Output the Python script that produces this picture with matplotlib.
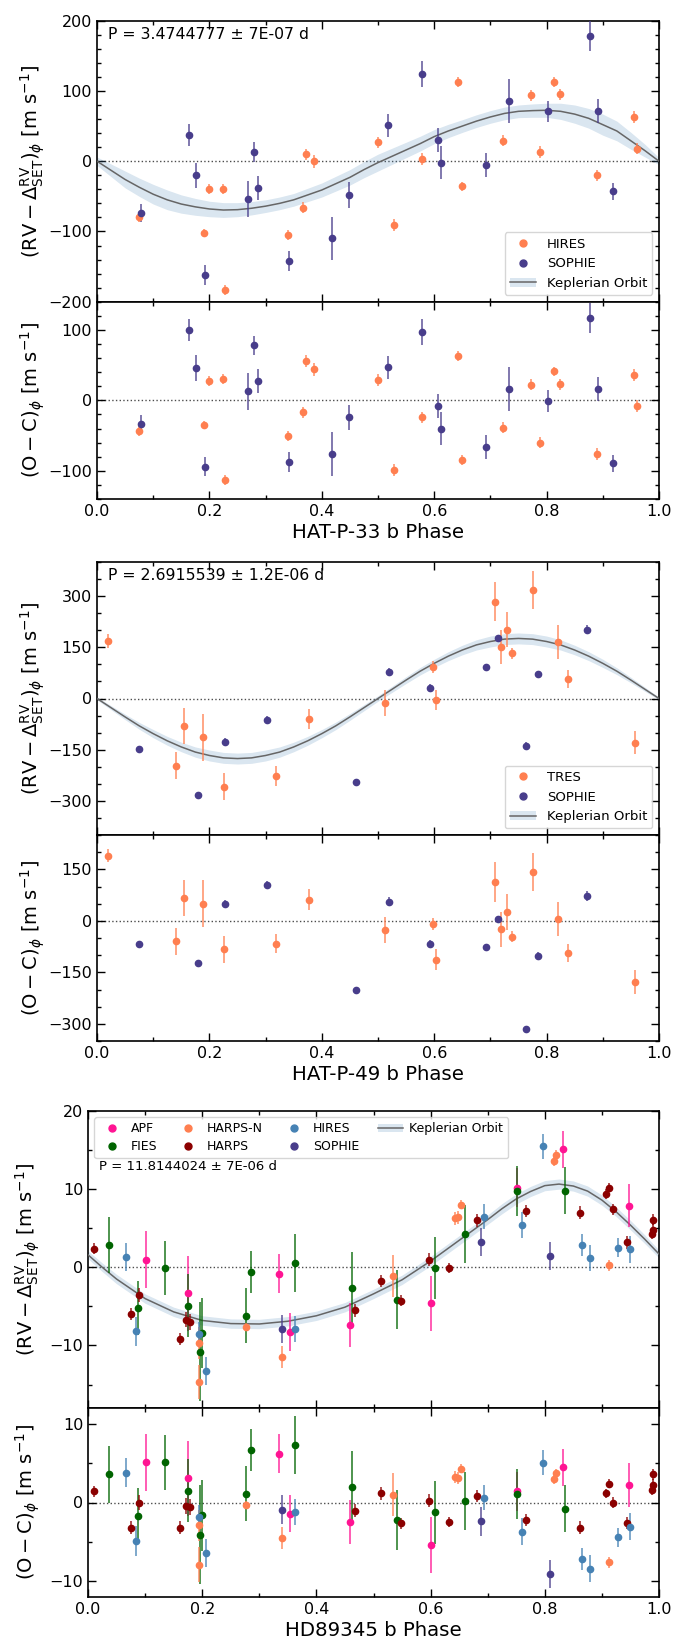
import numpy as np
import matplotlib.pyplot as plt
from matplotlib.lines import Line2D
from matplotlib.patches import Patch
from matplotlib.ticker import MultipleLocator

# ---------------- HAT-P-33 b ----------------
p33_hires_ph = [0.075, 0.19, 0.20, 0.224, 0.228, 0.34, 0.367, 0.372, 0.387, 0.50, 0.529,
                0.579, 0.643, 0.649, 0.723, 0.772, 0.789, 0.813, 0.824, 0.89, 0.955, 0.961]
p33_hires_rv = [-80, -102, -40, -39, -183, -105, -66, 10, 0, 27, -91,
                3, 113, -36, 29, 94, 13, 113, 95, -20, 63, 18]
p33_hires_oc = [-43, -35, 28, 30, -113, -50, -17, 56, 44, 29, -99,
                -24, 63, -85, -39, 22, -60, 41, 23, -76, 36, -8]
p33_hires_err = [7, 6, 7, 7, 7, 7, 8, 8, 9, 8, 9, 8, 7, 7, 8, 8, 8, 7, 8, 8, 8, 8]

p33_sophie_ph = [0.078, 0.163, 0.177, 0.192, 0.268, 0.28, 0.286, 0.341, 0.418, 0.448,
                 0.517, 0.579, 0.606, 0.612, 0.692, 0.733, 0.803, 0.877, 0.891, 0.918]
p33_sophie_rv = [-74, 37, -20, -162, -54, 13, -38, -142, -110, -48,
                 51, 124, 30, -2, -5, 86, 71, 178, 71, -43]
p33_sophie_oc = [-34, 100, 46, -94, 13, 78, 27, -87, -76, -24,
                 47, 97, -8, -40, -66, 16, -1, 117, 16, -89]
p33_sophie_err = [13, 16, 18, 14, 26, 14, 17, 14, 31, 18, 16, 18, 17, 24, 17, 31, 15, 21, 17, 12]

# Keplerian model every 0.025 in phase
p33_model_ph = [0.0, 0.025, 0.05, 0.075, 0.1, 0.125, 0.15, 0.175, 0.2, 0.225,
                0.25, 0.275, 0.3, 0.325, 0.35, 0.375, 0.4, 0.425, 0.45, 0.475,
                0.5, 0.525, 0.55, 0.575, 0.6, 0.625, 0.65, 0.675, 0.7, 0.725,
                0.75, 0.775, 0.8, 0.825, 0.85, 0.875, 0.9, 0.925, 0.95, 0.975, 1.0]
p33_model_rv = [0, -13, -26, -37, -47, -55, -61, -65, -68, -69.5,
                -69, -67, -64, -60, -55, -48, -41, -32, -23, -12,
                -2, 7, 16, 25, 35, 43, 50, 57, 63, 68,
                71, 72, 72.5, 71, 67, 61, 52, 43, 29, 15, 0]
p33_model_sig = [6, 9, 12, 13, 14, 14, 13, 12, 11, 10.5,
                 10, 9.5, 9, 9, 9, 9.5, 10, 10.5, 11, 11.5,
                 12, 11.5, 11, 10.5, 10, 9.5, 9, 9, 9, 9,
                 9, 9.5, 10, 11.5, 13, 14, 15, 14, 12, 9, 5]

# ---------------- HAT-P-49 b ----------------
p49_tres_ph = [0.019, 0.14, 0.154, 0.189, 0.226, 0.319, 0.378, 0.513, 0.598, 0.603,
               0.709, 0.719, 0.730, 0.738, 0.775, 0.821, 0.838, 0.958]
p49_tres_rv = [169, -197, -80, -114, -258, -227, -60, -13, 93, -5,
               284, 150, 202, 132, 318, 166, 57, -130]
p49_tres_oc = [190, -60, 66, 50, -83, -67, 62, -26, -10, -113,
               112, -25, 25, -46, 142, 6, -94, -178]
p49_tres_err = [20, 40, 52, 68, 40, 28, 30, 38, 18, 30, 58, 50, 52, 15, 55, 50, 27, 34]

p49_sophie_ph = [0.075, 0.18, 0.228, 0.303, 0.46, 0.52, 0.592, 0.692, 0.714, 0.763, 0.785, 0.871]
p49_sophie_rv = [-149, -282, -127, -62, -245, 78, 30, 91, 177, -138, 71, 202]
p49_sophie_oc = [-68, -123, 49, 105, -201, 56, -68, -76, 4, -315, -101, 72]
p49_sophie_err = [8, 8, 12, 12, 8, 12, 12, 8, 8, 10, 10, 14]

p49_model_ph = p33_model_ph
p49_model_rv = [0, -27, -54, -80, -103, -124, -142, -157, -167, -174,
                -176, -174, -167, -157, -142, -124, -103, -80, -54, -27,
                0, 27, 54, 80, 103, 124, 142, 157, 167, 174,
                176, 174, 167, 157, 142, 124, 103, 80, 54, 27, 0]
p49_model_sig = [4, 6, 8, 10, 12, 13, 14, 15, 16, 16,
                 16, 16, 16, 15, 14, 13, 12, 11, 10, 9,
                 8, 9, 10, 11, 12, 13, 14, 15, 16, 16,
                 16, 16, 16, 15, 14, 13, 12, 10, 8, 6, 4]

# ---------------- HD89345 b ----------------
hd_apf_ph = [0.102, 0.175, 0.335, 0.353, 0.458, 0.601, 0.751, 0.832, 0.947]
hd_apf_rv = [1.0, -3.3, -0.8, -8.3, -7.4, -4.6, 10.2, 15.1, 7.9]
hd_apf_oc = [5.1, 3.05, 6.2, -1.4, -2.5, -5.4, 1.4, 4.45, 2.25]
hd_apf_err = [3.6, 4.8, 2.5, 2.4, 2.8, 3.5, 2.5, 2.4, 2.8]

hd_fies_ph = [0.036, 0.087, 0.135, 0.176, 0.1955, 0.2005, 0.276, 0.285, 0.363,
              0.462, 0.541, 0.607, 0.661, 0.751, 0.835]
hd_fies_rv = [2.9, -5.2, -0.1, -4.9, -10.8, -8.4, -6.2, -0.6, 0.6,
              -2.6, -4.15, -0.1, 4.3, 9.8, 9.8]
hd_fies_oc = [3.6, -1.7, 5.1, 1.5, -4.1, -1.6, 1.1, 6.65, 7.3,
              2.0, -2.25, -1.25, 0.2, 1.05, -0.8]
hd_fies_err = [3.6, 3.5, 3.5, 4.0, 6.3, 4.5, 3.5, 2.7, 3.7, 4.5, 3.8, 4.0, 3.7, 3.2, 3.0]

hd_harpsn_ph = [0.194, 0.195, 0.276, 0.339, 0.534, 0.642, 0.648, 0.654, 0.816, 0.820, 0.913]
hd_harpsn_rv = [-14.7, -9.7, -7.65, -11.5, -1.15, 6.25, 6.4, 8.0, 13.6, 14.4, 0.25]
hd_harpsn_oc = [-7.9, -2.9, -0.35, -4.45, 1.0, 3.25, 3.1, 4.3, 3.0, 3.7, -7.6]
hd_harpsn_err = [2.2, 2.0, 0.5, 1.4, 2.7, 0.8, 0.8, 0.6, 0.6, 0.6, 0.7]

hd_harps_ph = [0.010, 0.075, 0.089, 0.161, 0.172, 0.179, 0.468, 0.514, 0.549, 0.598, 0.632,
               0.681, 0.767, 0.861, 0.907, 0.913, 0.920, 0.944, 0.988, 0.989, 0.990]
hd_harps_rv = [2.35, -6.0, -3.5, -9.2, -6.7, -7.0, -5.5, -1.75, -4.3, 1.0, -0.1,
               6.0, 7.2, 7.0, 9.4, 10.2, 7.4, 3.2, 4.3, 6.1, 4.8]
hd_harps_oc = [1.4, -3.2, 0.0, -3.2, -0.4, -0.55, -1.05, 1.15, -2.65, 0.25, -2.5,
               0.85, -2.2, -3.2, 1.15, 2.4, 0.0, -2.6, 1.6, 3.6, 2.25]
hd_harps_err = [0.7, 0.8, 0.9, 0.8, 1.0, 1.0, 0.8, 0.8, 0.7, 0.8, 0.6,
                0.8, 0.8, 0.8, 0.6, 0.6, 0.7, 0.8, 0.7, 0.7, 0.7]

hd_hires_ph = [0.066, 0.084, 0.194, 0.207, 0.363, 0.694, 0.760, 0.797, 0.865, 0.879, 0.929, 0.950]
hd_hires_rv = [1.3, -8.2, -8.5, -13.3, -7.9, 6.5, 5.4, 15.5, 2.9, 1.2, 2.5, 2.3]
hd_hires_oc = [3.8, -4.9, -1.8, -6.4, -1.2, 0.6, -3.7, 5.05, -7.2, -8.4, -4.4, -3.05]
hd_hires_err = [1.8, 1.9, 1.5, 1.8, 1.7, 1.6, 1.7, 1.6, 1.4, 1.7, 1.2, 1.7]

hd_sophie_ph = [0.339, 0.689, 0.809]
hd_sophie_rv = [-7.9, 3.2, 1.4]
hd_sophie_oc = [-0.9, -2.4, -9.1]
hd_sophie_err = [1.8, 1.8, 1.8]

hd_model_ph = [0.0, 0.025, 0.05, 0.1, 0.15, 0.2, 0.25, 0.3, 0.35, 0.4, 0.45, 0.5, 0.55, 0.6,
               0.65, 0.7, 0.725, 0.75, 0.775, 0.8, 0.825, 0.85, 0.875, 0.9, 0.925, 0.95, 0.975, 1.0]
hd_model_rv = [1.6, 0.0, -1.5, -4.0, -5.7, -6.8, -7.2, -7.25, -6.9, -6.2, -5.1, -3.4, -1.6, 0.8,
               3.45, 6.1, 7.5, 8.75, 9.7, 10.45, 10.65, 10.4, 9.75, 8.6, 7.1, 5.4, 3.6, 1.7]
hd_model_sig = [0.5, 0.55, 0.6, 0.6, 0.6, 0.6, 0.6, 0.6, 0.6, 0.6, 0.6, 0.6, 0.6, 0.6,
                0.6, 0.6, 0.65, 0.65, 0.65, 0.65, 0.65, 0.65, 0.65, 0.65, 0.6, 0.6, 0.55, 0.5]

band_color = 'steelblue'
line_color = '#666666'

W, H = 676, 1645
fig = plt.figure(figsize=(W / 100, H / 100), dpi=100)


def box(left, right, top, bottom):
    return [left / W, 1 - bottom / H, (right - left) / W, (bottom - top) / H]


def style(ax, major, minor):
    ax.set_xlim(0, 1)
    ax.xaxis.set_major_locator(MultipleLocator(0.2))
    ax.xaxis.set_minor_locator(MultipleLocator(0.1))
    ax.yaxis.set_major_locator(MultipleLocator(major))
    ax.yaxis.set_minor_locator(MultipleLocator(minor))
    ax.tick_params(which='both', direction='in', top=True, right=True, labelsize=11.5)
    ax.tick_params(which='major', length=6, width=1)
    ax.tick_params(which='minor', length=3, width=1)
    for s in ax.spines.values():
        s.set_linewidth(1.2)
    ax.axhline(0, color='k', ls=':', lw=1, alpha=0.7, zorder=1)


def points(ax, ph, vals, err, color):
    eb = ax.errorbar(ph, vals, yerr=err, fmt='o', color=color, ms=4.5,
                     elinewidth=1.3, capsize=0, zorder=4)
    eb[2][0].set_alpha(0.75)


def panel(top, bot, left, datasets, mph, mrv, msig, rvlim, oclim, rvtick, octick,
          period, ptxt_y, ptxt_size, planet, labx, legend_kw):
    ax1 = fig.add_axes(box(left, 659, top[0], top[1]))
    ax2 = fig.add_axes(box(left, 659, bot[0], bot[1]), sharex=ax1)
    mrv_a = np.array(mrv)
    msig_a = np.array(msig)
    ax1.fill_between(mph, mrv_a - msig_a, mrv_a + msig_a, color=band_color, alpha=0.2,
                     lw=0, zorder=2)
    ax1.plot(mph, mrv, color=line_color, lw=1.1, zorder=3)
    handles = []
    for name, color, ph, rv, oc, err in datasets:
        points(ax1, ph, rv, err, color)
        points(ax2, ph, oc, err, color)
        handles.append(Line2D([], [], marker='o', ls='', color=color, ms=5, label=name))
    handles.append((Patch(facecolor=band_color, alpha=0.2, lw=0),
                    Line2D([], [], color=line_color, lw=1.1)))
    labels = [d[0] for d in datasets] + ['Keplerian Orbit']
    style(ax1, *rvtick)
    style(ax2, *octick)
    ax1.set_ylim(*rvlim)
    ax2.set_ylim(*oclim)
    plt.setp(ax1.get_xticklabels(), visible=False)
    ax1.text(0.019, ptxt_y, period, transform=ax1.transAxes, fontsize=ptxt_size, va='center')
    leg = ax1.legend(handles, labels, **legend_kw)
    leg.set_zorder(10)
    ax1.set_ylabel(r'$(\mathrm{RV}-\Delta^{\mathrm{RV}}_{\mathrm{SET}})_{\phi}$ $[\mathrm{m\ s^{-1}}]$',
                   fontsize=14)
    ax2.set_ylabel(r'$(\mathrm{O}-\mathrm{C})_{\phi}$ $[\mathrm{m\ s^{-1}}]$', fontsize=14)
    lx = -(left - labx) / (659 - left)
    ax1.yaxis.set_label_coords(lx, 0.5)
    ax2.yaxis.set_label_coords(lx, 0.5)
    ax2.set_xlabel(planet + ' Phase', fontsize=14.2, labelpad=3)


panel((20.7, 301.7), (301.7, 499), 97,
      [('HIRES', 'coral', p33_hires_ph, p33_hires_rv, p33_hires_oc, p33_hires_err),
       ('SOPHIE', 'darkslateblue', p33_sophie_ph, p33_sophie_rv, p33_sophie_oc, p33_sophie_err)],
      p33_model_ph, p33_model_rv, p33_model_sig, (-200, 200), (-140, 140), (100, 20), (100, 20),
      'P = 3.4744777 ± 7E-07 d', 0.95, 11.3, 'HAT-P-33 b', 47,
      dict(loc='lower right', fontsize=9.5))

panel((562, 835), (835, 1041), 97,
      [('TRES', 'coral', p49_tres_ph, p49_tres_rv, p49_tres_oc, p49_tres_err),
       ('SOPHIE', 'darkslateblue', p49_sophie_ph, p49_sophie_rv, p49_sophie_oc, p49_sophie_err)],
      p49_model_ph, p49_model_rv, p49_model_sig, (-400, 400), (-350, 250), (150, 50), (150, 50),
      'P = 2.6915539 ± 1.2E-06 d', 0.949, 11.3, 'HAT-P-49 b', 47,
      dict(loc='lower right', fontsize=9.5))

panel((1111, 1408), (1408, 1597), 88,
      [('APF', 'deeppink', hd_apf_ph, hd_apf_rv, hd_apf_oc, hd_apf_err),
       ('FIES', 'darkgreen', hd_fies_ph, hd_fies_rv, hd_fies_oc, hd_fies_err),
       ('HARPS-N', 'coral', hd_harpsn_ph, hd_harpsn_rv, hd_harpsn_oc, hd_harpsn_err),
       ('HARPS', 'darkred', hd_harps_ph, hd_harps_rv, hd_harps_oc, hd_harps_err),
       ('HIRES', 'steelblue', hd_hires_ph, hd_hires_rv, hd_hires_oc, hd_hires_err),
       ('SOPHIE', 'darkslateblue', hd_sophie_ph, hd_sophie_rv, hd_sophie_oc, hd_sophie_err)],
      hd_model_ph, hd_model_rv, hd_model_sig, (-18, 20), (-12, 12), (10, 5), (10, 5),
      'P = 11.8144024 ± 7E-06 d', 0.8125, 9.5, 'HD89345 b', 42,
      dict(loc='upper left', ncol=4, fontsize=9, handletextpad=0.5, columnspacing=1.5,
           labelspacing=0.4))

fig.savefig('out.png', dpi=100)
